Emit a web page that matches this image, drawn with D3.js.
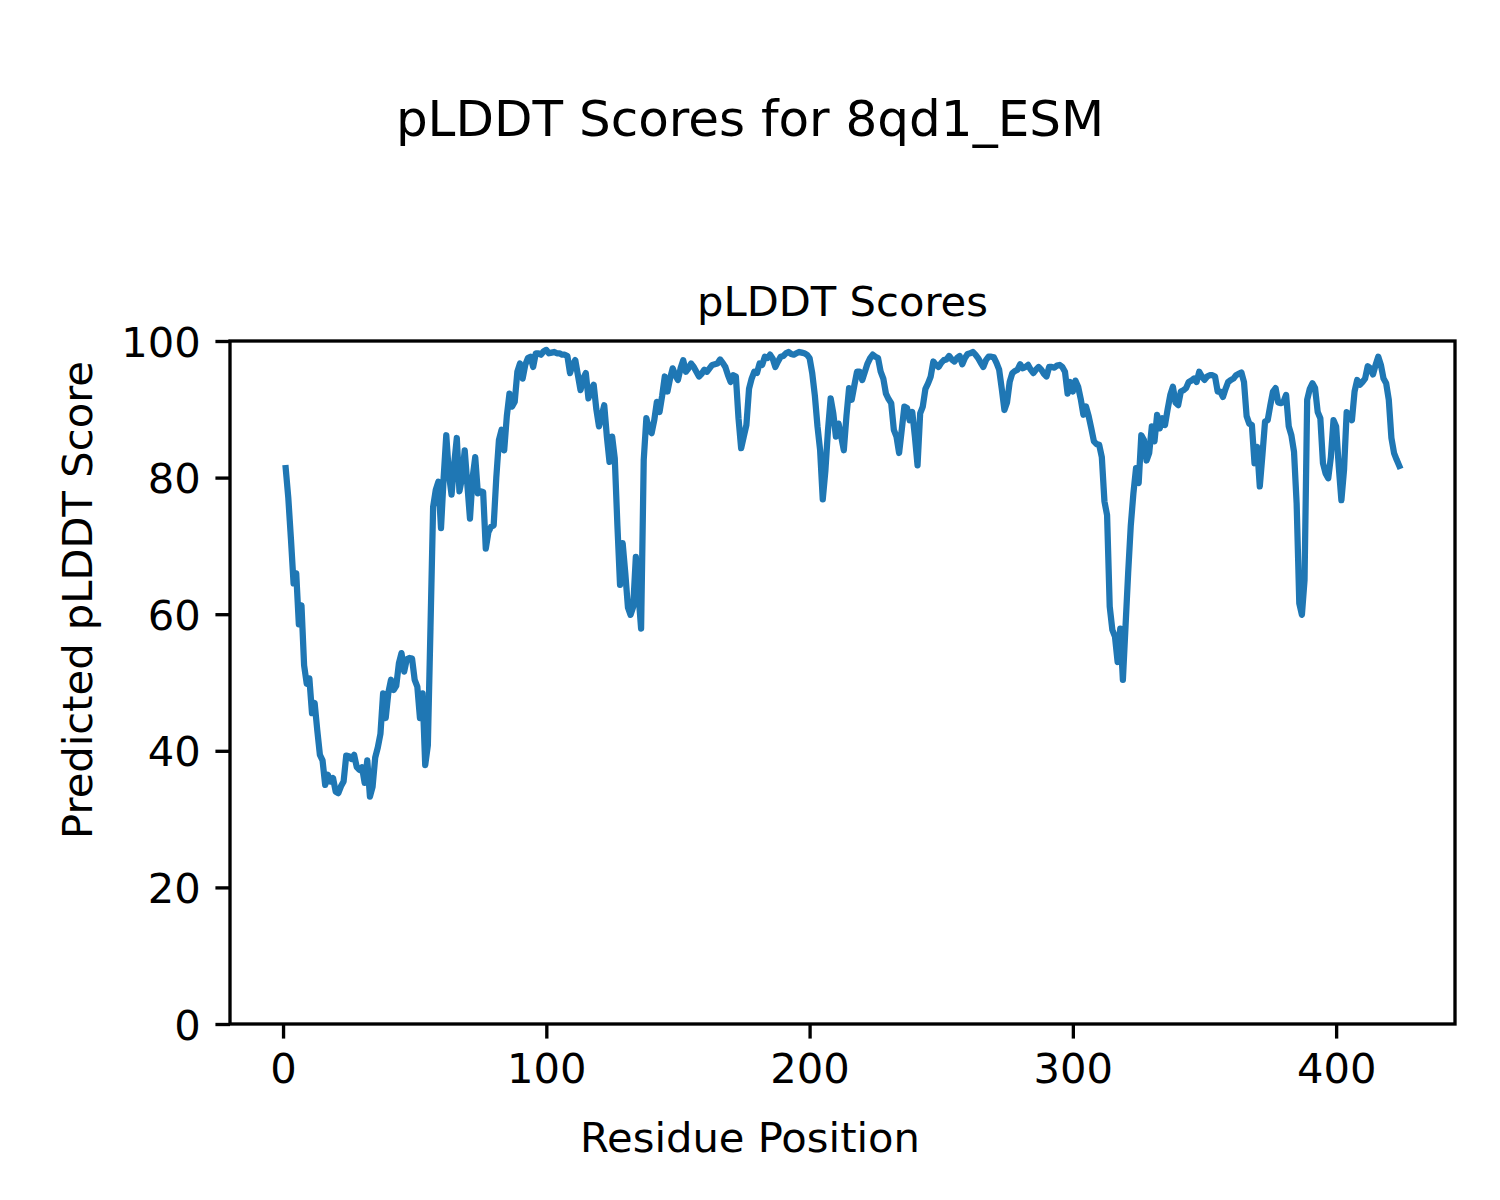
<!DOCTYPE html>
<html>
<head>
<meta charset="utf-8">
<script src="https://cdn.jsdelivr.net/npm/d3@7"></script>
<style>
  html, body { margin: 0; padding: 0; background: #ffffff; }
  svg { display: block; }
  text { font-family: "DejaVu Sans", sans-serif; fill: #000; }
</style>
</head>
<body>
<svg id="chart" width="1500" height="1200"></svg>
<script>
// ---- data ----
const chartTitle = "pLDDT Scores for 8qd1_ESM";
const axesTitle = "pLDDT Scores";
const xLabel = "Residue Position";
const yLabel = "Predicted pLDDT Score";
const xTicks = [0, 100, 200, 300, 400];
const yTicks = [0, 20, 40, 60, 80, 100];
const firstResidue = 1;
const plddt = [
  81.4, 77, 71, 64.5, 66, 58.5, 61.3, 52.5, 49.8, 50.6,
  45.5, 47, 43, 39.4, 38.6, 35, 36.5, 35.5, 36, 34,
  33.8, 34.8, 35.5, 39.3, 39.2, 38.8, 39.4, 37.6, 37.2, 37.6,
  35.3, 38.6, 33.3, 34.7, 39, 40.5, 42.5, 48.4, 44.8, 48.5,
  50.4, 48.9, 49.5, 52.8, 54.3, 51.6, 53.4, 53.6, 53.5, 50.4,
  49.4, 44.8, 48.4, 37.9, 40.8, 58, 75.7, 78.2, 79.4, 72.6,
  80, 86.2, 80.5, 77.5, 82, 85.8, 78, 80, 84, 79,
  74, 80, 83, 77.7, 78, 77.9, 69.6, 72, 72.8, 73,
  80, 85.5, 87, 84, 89, 92.3, 90.4, 91.1, 95.5, 96.7,
  94.5, 96.5, 97.5, 97.7, 96.2, 98.2, 98.2, 98, 98.5, 98.7,
  98.2, 98.3, 98.4, 98.2, 98.2, 98, 98, 97.8, 95.3, 96.5,
  97.2, 95, 92.8, 94.5, 95.3, 91.6, 92.8, 93.6, 90, 87.5,
  89, 90.6, 86, 82.3, 86, 82.8, 73, 64.3, 70.4, 66,
  61, 59.9, 61.1, 68.4, 63, 57.9, 82.6, 88.7, 87, 86.5,
  88.4, 91.1, 89.6, 92, 94.8, 92.6, 94.5, 96, 95, 94.3,
  96, 97.2, 95.5, 96, 96.7, 96.2, 95.5, 94.8, 95.2, 95.8,
  95.5, 96, 96.5, 96.6, 96.7, 97.3, 96.8, 96.2, 95, 94,
  95, 94.8, 88.7, 84.3, 86, 87.7, 93, 94.5, 95.5, 95.3,
  96.7, 96.5, 97.7, 97.5, 98, 97.4, 96.2, 97, 97.7, 97.8,
  98.2, 98.4, 98.1, 98, 98.2, 98.4, 98.3, 98.2, 98, 97.5,
  95.3, 92, 87.5, 84, 76.8, 81, 87, 91.6, 89.4, 86,
  87.9, 86, 84, 89, 93.1, 91.4, 93.5, 95.5, 95.5, 94.3,
  95.5, 96.7, 97.5, 98, 97.7, 97.5, 95.5, 94.5, 92.3, 91.5,
  90.9, 87, 86, 83.6, 87, 90.4, 90.2, 88.4, 89.6, 86,
  81.8, 89.4, 90.4, 93, 93.8, 94.8, 97, 96.5, 96.2, 96.8,
  97.2, 97.3, 97.8, 97.3, 97, 97.5, 97.8, 96.6, 97.5, 98.1,
  98.2, 98.4, 98, 97.5, 96.8, 96.2, 97.2, 97.7, 97.7, 97.6,
  96.8, 95.8, 93, 89.9, 91, 94, 95.3, 95.6, 95.8, 96.6,
  96, 96.2, 96.5, 95.8, 95.3, 95.8, 96.2, 95.8, 95.2, 94.8,
  96.2, 96.2, 96.1, 96.4, 96.5, 96.2, 95.5, 92.3, 94, 92.6,
  94.2, 93.3, 91.5, 89.2, 90.4, 89, 87.2, 85.3, 84.9, 84.8,
  83, 76.5, 74.5, 61.1, 57.7, 56.7, 53, 57.9, 50.4, 58.2,
  66, 73, 77.7, 81.4, 79.2, 86.2, 85.5, 82.5, 83.6, 87.5,
  85.3, 89.2, 87.2, 88.7, 87.7, 90, 92.1, 93.3, 91, 90.6,
  92.6, 92.8, 93.1, 94, 94.2, 94.5, 94, 95.5, 94.8, 94.3,
  94.8, 95, 95, 94.8, 92.6, 92.6, 91.8, 93, 94, 94.3,
  94.5, 95, 95.2, 95.4, 94, 89, 87.9, 87.7, 82.1, 84.5,
  78.7, 83.3, 88.2, 88.4, 90.6, 92.6, 93.1, 91, 90.9, 91.1,
  92.1, 87.5, 86.2, 83.8, 76.2, 61.6, 59.9, 65, 91.4, 93,
  93.8, 93.1, 89.6, 88.7, 82.1, 80.6, 79.9, 83, 88.4, 87.5,
  81.6, 76.7, 81.1, 89.6, 89, 88.4, 92.6, 94.3, 93.6, 94,
  94.5, 96.3, 96, 95.1, 96.5, 97.7, 96.5, 94.5, 93.8, 91.4,
  85.8, 83.6, 82.6, 81.7
];

// ---- layout ----
const pt = 300 / 72;
const box = { left: 230, right: 1455, top: 341, bottom: 1024 };
const fontSmall = 10 * pt;   // 41.67px
const fontTitle = 12 * pt;   // 50px
const tickLen = 3.5 * pt;
const tickPad = 3.5 * pt;
const spineW = 0.8 * pt;
const lineW = 1.5 * pt;

const residues = plddt.map((d, i) => firstResidue + i);
const points = residues.map((r, i) => ({ x: r, y: plddt[i] }));

const xMin = d3.min(residues), xMax = d3.max(residues);
const pad = 0.05 * (xMax - xMin);
const x = d3.scaleLinear().domain([xMin - pad, xMax + pad]).range([box.left, box.right]);
const y = d3.scaleLinear().domain([0, 100]).range([box.bottom, box.top]);

const svg = d3.select("#chart");
svg.append("rect").attr("width", 1500).attr("height", 1200).attr("fill", "#fff");

// line
const clipId = "plotclip";
svg.append("clipPath").attr("id", clipId).append("rect")
  .attr("x", box.left).attr("y", box.top)
  .attr("width", box.right - box.left).attr("height", box.bottom - box.top);

svg.append("path")
  .datum(points)
  .attr("clip-path", `url(#${clipId})`)
  .attr("fill", "none")
  .attr("stroke", "#1f77b4")
  .attr("stroke-width", lineW)
  .attr("stroke-linejoin", "round")
  .attr("stroke-linecap", "square")
  .attr("d", d3.line().x(d => x(d.x)).y(d => y(d.y)));

// axes
const xAxis = d3.axisBottom(x).tickValues(xTicks).tickSize(tickLen).tickPadding(tickPad).tickFormat(d3.format("d"));
const yAxis = d3.axisLeft(y).tickValues(yTicks).tickSize(tickLen).tickPadding(tickPad).tickFormat(d3.format("d"));

const gx = svg.append("g").attr("transform", `translate(0,${box.bottom})`).call(xAxis);
const gy = svg.append("g").attr("transform", `translate(${box.left},0)`).call(yAxis);
[gx, gy].forEach(g => {
  g.select(".domain").remove();
  g.selectAll(".tick line").attr("stroke", "#000").attr("stroke-width", spineW);
  g.selectAll(".tick text")
    .attr("fill", "#000")
    .style("font-family", "'DejaVu Sans', sans-serif")
    .style("font-size", fontSmall + "px");
});
gy.selectAll(".tick text").attr("dy", "0.36em");

// frame (spines)
svg.append("rect")
  .attr("x", box.left).attr("y", box.top)
  .attr("width", box.right - box.left).attr("height", box.bottom - box.top)
  .attr("fill", "none").attr("stroke", "#000").attr("stroke-width", spineW)
  .attr("stroke-linecap", "square");

// titles and labels
svg.append("text")
  .attr("x", 750).attr("y", 136)
  .attr("text-anchor", "middle")
  .style("font-size", fontTitle + "px")
  .text(chartTitle);

svg.append("text")
  .attr("x", (box.left + box.right) / 2).attr("y", box.top - 6 * pt)
  .attr("text-anchor", "middle")
  .style("font-size", fontSmall + "px")
  .text(axesTitle);

svg.append("text")
  .attr("x", 750).attr("y", 1152)
  .attr("text-anchor", "middle")
  .style("font-size", fontSmall + "px")
  .text(xLabel);

svg.append("text")
  .attr("transform", "translate(92,600) rotate(-90)")
  .attr("text-anchor", "middle")
  .style("font-size", fontSmall + "px")
  .text(yLabel);
</script>
</body>
</html>
